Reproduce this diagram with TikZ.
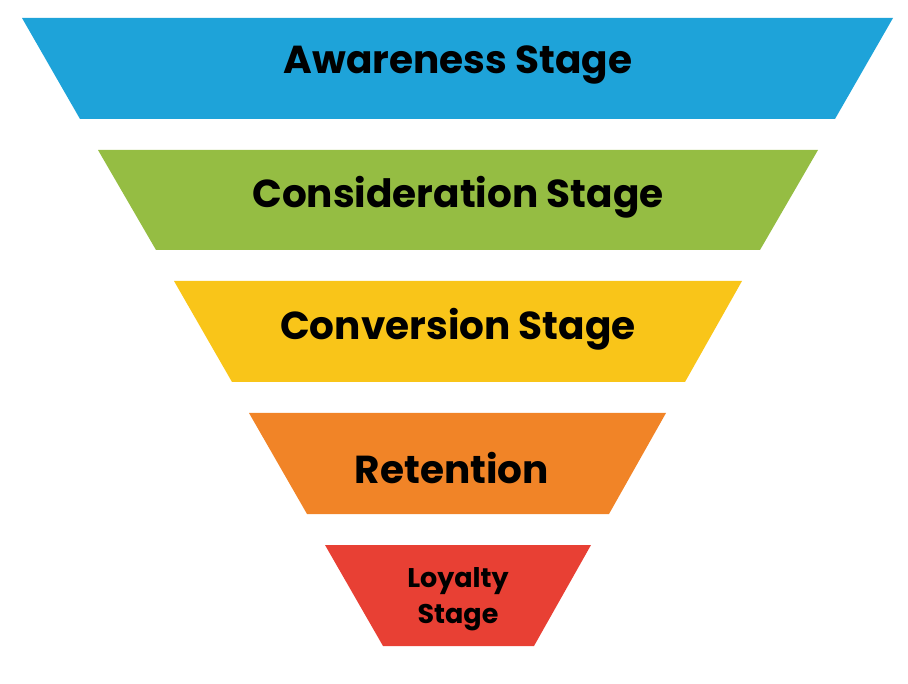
\documentclass[tikz,border=0pt]{standalone}
\usepackage{fontspec}
\setmainfont{Poppins}
\definecolor{cA}{HTML}{1EA3D9}
\definecolor{cB}{HTML}{95BD43}
\definecolor{cC}{HTML}{F9C519}
\definecolor{cD}{HTML}{F18427}
\definecolor{cE}{HTML}{E84034}
\begin{document}
\begin{tikzpicture}[x=1pt,y=-1pt,
  lbl/.style={font=\fontsize{39}{44}\selectfont\bfseries,text=black},
  sm/.style={font=\fontsize{27}{36}\selectfont\bfseries,text=black,align=center}]
\useasboundingbox (0,0) rectangle (908,684);
\fill[cA] (22,18) -- (893,18) -- (835,119) -- (80,119) -- cycle;
\fill[cB] (98,150) -- (818,150) -- (760,250) -- (156,250) -- cycle;
\fill[cC] (174,281) -- (742,281) -- (685,382) -- (232,382) -- cycle;
\fill[cD] (249,413) -- (666,413) -- (609,514) -- (307,514) -- cycle;
\fill[cE] (325,545) -- (591,545) -- (534,646) -- (383,646) -- cycle;
\node[lbl] (a) at (458,65) {Awareness Stage};
\node[lbl] (b) at (458,197) {Consideration Stage};
\node[lbl] (c) at (458,329) {Conversion Stage};
\node[lbl] (d) at (452,468) {Retention};
\node[sm] (e) at (458,599) {Loyalty\\Stage};
\end{tikzpicture}
\end{document}
